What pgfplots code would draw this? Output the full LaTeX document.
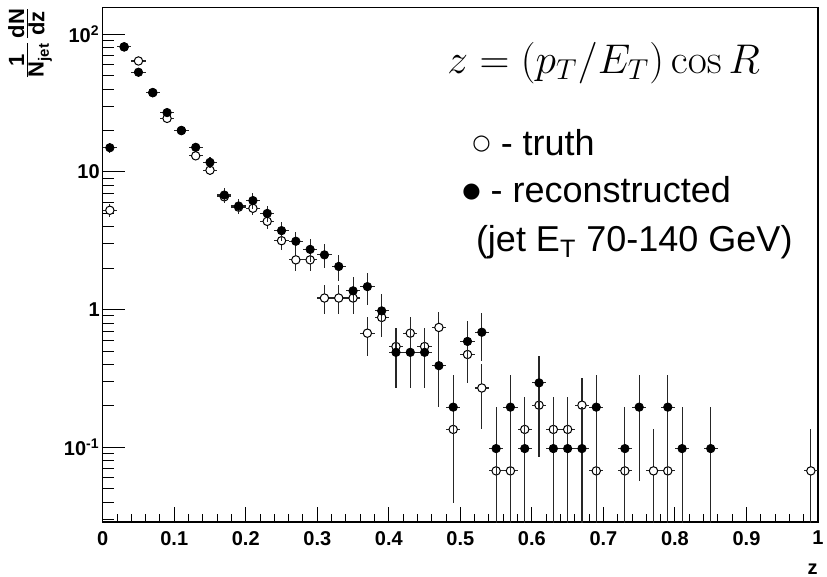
\documentclass[border=0pt]{standalone}
\usepackage[no-math]{fontspec}
\setmainfont{Liberation Sans}
\newfontfamily\dejavu{DejaVu Sans}
\usepackage{pgfplots}
\pgfplotsset{compat=1.18}
\usepackage{pgfplotstable}

\pgfplotstableread{
x y ep em
0.01 5.27 0.596 0.596
0.03 81 2.34 2.34
0.05 64 2.08 2.08
0.07 37.7 1.595 1.595
0.09 24.5 1.286 1.286
0.11 20.0 1.162 1.162
0.13 13.1 0.940 0.940
0.15 10.3 0.834 0.834
0.17 6.6 0.667 0.667
0.19 5.55 0.612 0.612
0.21 5.45 0.607 0.607
0.23 4.38 0.544 0.544
0.25 3.17 0.463 0.463
0.27 2.30 0.394 0.394
0.29 2.30 0.394 0.394
0.31 1.215 0.286 0.286
0.33 1.215 0.286 0.286
0.35 1.215 0.286 0.286
0.37 0.675 0.2135 0.2135
0.39 0.878 0.2434 0.2434
0.41 0.54 0.191 0.191
0.43 0.675 0.2135 0.2135
0.45 0.54 0.191 0.191
0.47 0.743 0.224 0.224
0.49 0.135 0.0955 0.0955
0.51 0.4725 0.1786 0.1786
0.53 0.27 0.135 0.135
0.55 0.0675 0.0675 0.0575
0.57 0.0675 0.0675 0.0575
0.59 0.135 0.0955 0.0955
0.61 0.2025 0.1169 0.1169
0.63 0.135 0.0955 0.0955
0.65 0.135 0.0955 0.0955
0.67 0.2025 0.1169 0.1169
0.69 0.0675 0.0675 0.0575
0.73 0.0675 0.0675 0.0575
0.77 0.0675 0.0675 0.0575
0.79 0.0675 0.0675 0.0575
0.99 0.0675 0.0675 0.0575
}\truth

\pgfplotstableread{
x y ep em
0.01 15.0 1.212 1.212
0.03 81 2.817 2.817
0.05 53 2.279 2.279
0.07 37.7 1.922 1.922
0.09 27 1.627 1.627
0.11 20.0 1.4 1.4
0.13 15.1 1.216 1.216
0.15 11.75 1.073 1.073
0.17 6.8 0.816 0.816
0.19 5.66 0.745 0.745
0.21 6.2 0.779 0.779
0.23 5.0 0.7 0.7
0.25 3.75 0.606 0.606
0.27 3.14 0.555 0.555
0.29 2.74 0.518 0.518
0.31 2.50 0.495 0.495
0.33 2.06 0.449 0.449
0.35 1.37 0.366 0.366
0.37 1.47 0.380 0.380
0.39 0.98 0.310 0.310
0.41 0.49 0.219 0.219
0.43 0.49 0.219 0.219
0.45 0.49 0.219 0.219
0.47 0.392 0.196 0.196
0.49 0.196 0.1386 0.1386
0.51 0.588 0.240 0.240
0.53 0.686 0.2593 0.2593
0.55 0.098 0.098 0.088
0.57 0.196 0.1386 0.1386
0.59 0.098 0.098 0.088
0.61 0.294 0.1697 0.1697
0.63 0.098 0.098 0.088
0.65 0.098 0.098 0.088
0.67 0.098 0.098 0.088
0.69 0.196 0.1386 0.1386
0.73 0.098 0.098 0.088
0.75 0.196 0.1386 0.1386
0.79 0.196 0.1386 0.1386
0.81 0.098 0.098 0.088
0.85 0.098 0.098 0.088
}\reco

\begin{document}
\begin{tikzpicture}
\begin{axis}[
  scale only axis,
  width=357.65pt, height=257.35pt,
  xmin=0, xmax=1,
  ymode=log, ymin=0.0287, ymax=157,
  clip mode=individual,
  xtick={0,0.1,0.2,0.3,0.4,0.5,0.6,0.7,0.8,0.9,1},
  xticklabels={0,0.1,0.2,0.3,0.4,0.5,0.6,0.7,0.8,0.9,1},
  minor x tick num=4,
  ytick={0.1,1,10,100},
  yticklabels={10\textsuperscript{-1},1,10,10\textsuperscript{2}},
  minor ytick={0.03,0.04,0.05,0.06,0.07,0.08,0.09,0.2,0.3,0.4,0.5,0.6,0.7,0.8,0.9,2,3,4,5,6,7,8,9,20,30,40,50,60,70,80,90},
  xtick pos=bottom, ytick pos=left,
  tick align=inside,
  xtick style={/pgfplots/major tick length=7.5pt,/pgfplots/minor tick length=4pt},
  ytick style={/pgfplots/major tick length=11pt,/pgfplots/minor tick length=5.5pt},
  tick style={line width=0.5pt, black},
  axis line style={line width=0.7pt},
  ticklabel style={font=\fontsize{10}{12}\selectfont\bfseries},
  xticklabel style={yshift=-1pt},
  yticklabel style={xshift=2pt},
  error bars/error bar style={line width=0.55pt, black!85},
]
\addplot[only marks, mark=*, mark size=2.1pt, mark options={fill=white, draw=black, line width=0.5pt},
  error bars/.cd, y dir=both, y explicit, x dir=both, x fixed=0.01, error mark=none]
  table[x=x, y=y, y error plus=ep, y error minus=em] {\truth};
\addplot[only marks, mark=*, mark size=2.1pt, mark options={fill=black, draw=black},
  error bars/.cd, y dir=both, y explicit, x dir=both, x fixed=0.01, error mark=none]
  table[x=x, y=y, y error plus=ep, y error minus=em] {\reco};

\node[anchor=base west, font=\fontsize{20.7}{24}\selectfont] at (axis description cs:0.472,0.872) {$z=(p_T/E_T)\cos R$};
\node[anchor=base west, font=\fontsize{18}{22}\selectfont] at (axis description cs:0.507,0.713) {\raisebox{2.8pt}{\dejavu\fontsize{10.5}{10.5}\selectfont ○} - truth};
\node[anchor=base west, font=\fontsize{18}{22}\selectfont] at (axis description cs:0.493,0.620) {\raisebox{2.8pt}{\dejavu\fontsize{10.5}{10.5}\selectfont ●} - reconstructed};
\node[anchor=base west, font=\fontsize{18}{22}\selectfont] at (axis description cs:0.512,0.525) {(jet E\textsubscript{T} 70-140 GeV)};

\node[rotate=90, font=\fontsize{11}{12}\selectfont\bfseries] at (axis description cs:-0.1016,0.9306)
  {$\frac{\mbox{\bfseries 1}}{\mbox{\bfseries N}_{\mbox{\fontsize{7.5}{8}\selectfont\bfseries jet}}}\frac{\mbox{\bfseries dN}}{\mbox{\bfseries dz}}$};
\node[anchor=south east, inner sep=0pt, font=\fontsize{10}{12}\selectfont\bfseries] at (axis description cs:1,-0.103) {z};
\end{axis}
\pgfresetboundingbox
\path (current axis.south west) ++(-51.35pt,-27pt);
\path (current axis.north east) ++(4.5pt,3.65pt);
\end{tikzpicture}
\end{document}
